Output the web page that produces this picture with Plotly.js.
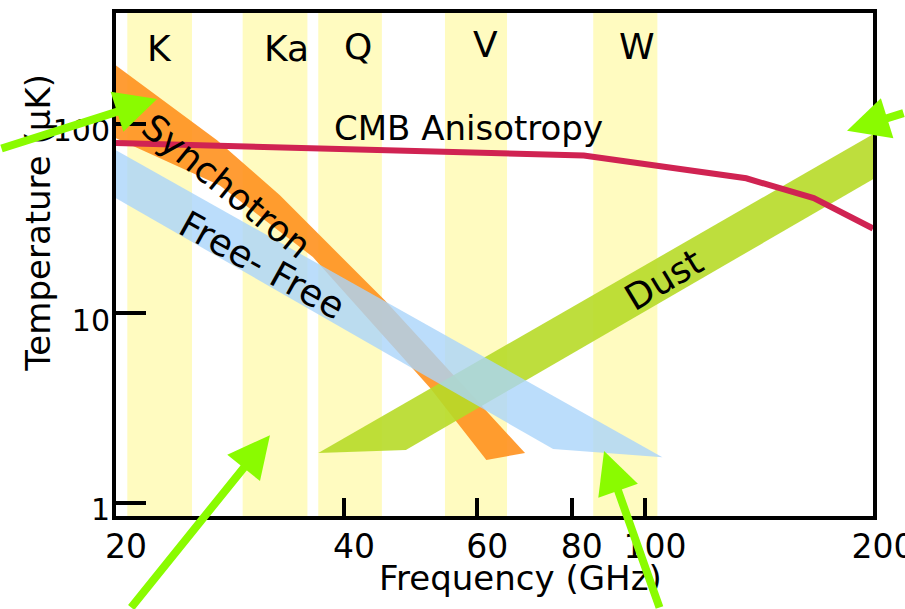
<!DOCTYPE html>
<html><head><meta charset="utf-8">
<script src="https://cdn.plot.ly/plotly-3.0.1.min.js"></script>
<style>html,body{margin:0;padding:0;background:#fff}</style>
</head><body><div id="chart" style="width:905px;height:609px"></div>
<script>
// WMAP frequency bands (GHz)
const bandNames = ['K', 'Ka', 'Q', 'V', 'W'];
const bandLow  = [20.7, 29.4, 37.0, 54.4, 85.4];
const bandHigh = [25.2, 35.8, 44.9, 65.7, 103.8];

// CMB anisotropy curve
const cmbFreq = [20, 83, 136, 167, 200];
const cmbTemp = [79, 68, 51.5, 40.5, 28];

// Synchrotron band outline (upper edge then lower edge back)
const synchFreq = [20, 27.2, 32.9, 45.3, 69.4, 61.7, 52.0, 44.7, 36.4, 27.4, 20];
const synchTemp = [203, 81.8, 42, 11.7, 1.83, 1.68, 4.03, 7.95, 19.8, 47.4, 83.8];

// Free-free band outline
const ffFreq = [20, 105.4, 75.6, 20];
const ffTemp = [72.4, 1.74, 1.92, 40.4];

// Dust band outline
const dustFreq = [37.0, 48.3, 200, 200];
const dustTemp = [1.83, 1.90, 50.9, 88];

// Axis ticks
const xTicks = [20, 40, 60, 80, 100, 200];
const yTicks = [1, 10, 100];

const FONT = 'DejaVu Sans';
const traces = [];

bandLow.forEach((lo, i) => {
  const hi = bandHigh[i];
  traces.push({
    type: 'scatter', mode: 'lines', name: bandNames[i] + ' band',
    x: [lo, hi, hi, lo, lo], y: [0.1, 0.1, 10000, 10000, 0.1],
    fill: 'toself', fillcolor: 'rgb(255,251,192)',
    line: {width: 0, color: 'rgba(0,0,0,0)'}, hoverinfo: 'skip', showlegend: false
  });
});

traces.push({
  type: 'scatter', mode: 'lines', name: 'Synchrotron',
  x: synchFreq, y: synchTemp, fill: 'toself',
  fillcolor: 'rgba(255,145,30,0.9)', line: {width: 0, color: 'rgba(0,0,0,0)'},
  showlegend: false
});
traces.push({
  type: 'scatter', mode: 'lines', name: 'Dust',
  x: dustFreq, y: dustTemp, fill: 'toself',
  fillcolor: 'rgba(183,218,40,0.9)', line: {width: 0, color: 'rgba(0,0,0,0)'},
  showlegend: false
});
traces.push({
  type: 'scatter', mode: 'lines', name: 'Free-Free',
  x: ffFreq, y: ffTemp, fill: 'toself',
  fillcolor: 'rgba(170,213,250,0.8)', line: {width: 0, color: 'rgba(0,0,0,0)'},
  showlegend: false
});
traces.push({
  type: 'scatter', mode: 'lines', name: 'CMB Anisotropy',
  x: cmbFreq, y: cmbTemp, line: {width: 6, color: '#D02352'},
  showlegend: false
});

const bandLabelPos = [[0.0581, 0.9286], [0.2246, 0.9286], [0.3197, 0.9325], [0.4875, 0.9365], [0.6883, 0.9325]];
const annotations = bandNames.map((n, i) => ({
  text: n, xref: 'paper', yref: 'paper', x: bandLabelPos[i][0], y: bandLabelPos[i][1],
  xanchor: 'center', yanchor: 'middle',
  showarrow: false, font: {size: 36, color: 'black', family: FONT}
}));

const textLabels = [
  {text: 'CMB Anisotropy', x: 0.4663, y: 0.7718, angle: 0, size: 34},
  {text: 'Synchotron', x: 0.1466, y: 0.6548, angle: 39, size: 36},
  {text: 'Free- Free', x: 0.1929, y: 0.498, angle: 29, size: 37},
  {text: 'Dust', x: 0.7239, y: 0.4702, angle: -31, size: 36},
  {text: 'Frequency (GHz)', x: 0.5337, y: -0.123, angle: 0, size: 34},
  {text: 'Temperature (μK)', x: -0.103, y: 0.5833, angle: -90, size: 34}
];
textLabels.forEach(t => annotations.push({
  text: t.text, xref: 'paper', yref: 'paper', x: t.x, y: t.y, textangle: t.angle,
  xanchor: 'center', yanchor: 'middle',
  showarrow: false, font: {size: t.size, color: 'black', family: FONT}
}));

const arrows = [
  {x: 0.0542, y: 0.829, ax: -180, ay: 50},
  {x: 0.2034, y: 0.1607, ax: -140, ay: 197},
  {x: 0.6447, y: 0.129, ax: 56, ay: 180},
  {x: 0.9657, y: 0.766, ax: 80, ay: -18}
];
arrows.forEach(a => annotations.push({
  text: '', xref: 'paper', yref: 'paper', x: a.x, y: a.y, ax: a.ax, ay: a.ay,
  showarrow: true, arrowhead: 2, arrowsize: 1.05, arrowwidth: 8, arrowcolor: '#8AFB00', standoff: 0
}));

const layout = {
  width: 905, height: 609,
  margin: {l: 116, r: 32, t: 13, b: 93, pad: 0},
  paper_bgcolor: 'white', plot_bgcolor: 'white',
  font: {family: FONT, color: 'black'},
  showlegend: false,
  xaxis: {
    type: 'log', range: [Math.log10(20), Math.log10(200)],
    tickmode: 'array', tickvals: xTicks, ticktext: xTicks.map(String),
    ticks: 'inside', ticklen: 18, tickwidth: 4, tickcolor: 'black',
    showline: true, linewidth: 4, linecolor: 'black', mirror: true,
    showgrid: false, zeroline: false,
    tickfont: {size: 33, color: 'black', family: FONT},
    ticklabelshift: 10, ticklabelstandoff: -2, ticklabeloverflow: 'allow'
  },
  yaxis: {
    type: 'log', range: [-0.0699, 2.584],
    tickmode: 'array', tickvals: yTicks, ticktext: yTicks.map(String),
    ticks: 'inside', ticklen: 30, tickwidth: 4, tickcolor: 'black',
    showline: true, linewidth: 4, linecolor: 'black', mirror: true,
    showgrid: false, zeroline: false,
    tickfont: {size: 30, color: 'black', family: FONT},
    ticklabelshift: 7, ticklabelstandoff: -4, ticklabeloverflow: 'allow'
  },
  annotations: annotations
};

Plotly.newPlot('chart', traces, layout, {displayModeBar: false, staticPlot: true});
</script>
</body></html>
